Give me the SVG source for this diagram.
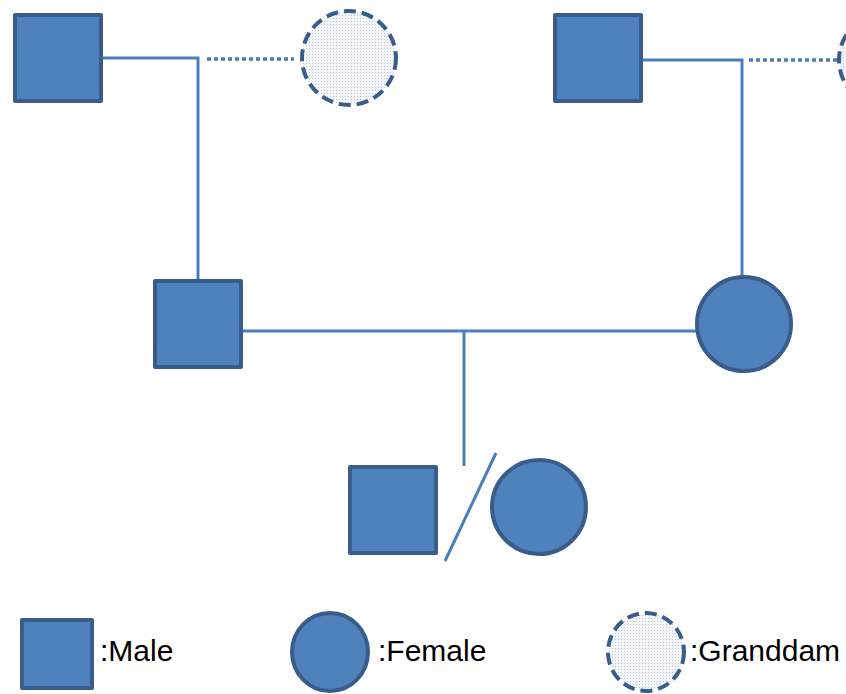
<svg xmlns="http://www.w3.org/2000/svg" width="846" height="694" viewBox="0 0 846 694">
<defs>
<pattern id="dots" width="3" height="3" patternUnits="userSpaceOnUse">
<rect width="3" height="3" fill="#f4f6fa"/>
<rect x="0" y="0" width="1" height="1" fill="#b9c9e0"/>
</pattern>
</defs>
<style>
.m{fill:#4f81bd;stroke:#385d8a;stroke-width:4;stroke-linejoin:round}
.g{fill:url(#dots);stroke:#385d8a;stroke-width:4;stroke-dasharray:12,6}
.l{fill:none;stroke:#4a7ebb;stroke-width:3}
.d{fill:none;stroke:#4a7ebb;stroke-width:3.5;stroke-dasharray:4,3}
.t{font-family:"Liberation Sans",Arial,sans-serif;font-size:30px;fill:#000}
</style>
<g id="connectors">
<polyline class="l" points="102,58 198,58 198,280"/>
<line class="d" x1="207" y1="59" x2="294" y2="59"/>
<polyline class="l" points="628,60 742,60 742,276"/>
<line class="d" x1="749" y1="60" x2="838" y2="60"/>
<line class="l" x1="243" y1="331" x2="696" y2="331"/>
<line class="l" x1="464" y1="331" x2="464" y2="466"/>
<line class="l" x1="496" y1="453" x2="445" y2="561"/>
</g>
<g id="grandsire1"><rect class="m" x="15" y="15" width="86" height="86"/></g>
<g id="granddam1"><circle class="g" cx="349" cy="58" r="47"/></g>
<g id="grandsire2"><rect class="m" x="555" y="15" width="86" height="86"/></g>
<g id="granddam2"><circle class="g" cx="886" cy="60" r="47"/></g>
<g id="sire"><rect class="m" x="155" y="281" width="86" height="86"/></g>
<g id="dam"><circle class="m" cx="744" cy="324" r="47"/></g>
<g id="offspring-male"><rect class="m" x="350" y="467" width="86" height="86"/></g>
<g id="offspring-female"><circle class="m" cx="539" cy="507" r="47"/></g>
<g id="legend-male"><rect class="m" x="22" y="620" width="70" height="68"/><text class="t" x="100" y="661">:Male</text></g>
<g id="legend-female"><ellipse class="m" cx="330" cy="652" rx="38" ry="39"/><text class="t" x="378" y="661">:Female</text></g>
<g id="legend-granddam"><ellipse class="g" cx="646" cy="652" rx="38" ry="39"/><text class="t" x="690" y="661">:Granddam</text></g>
</svg>
